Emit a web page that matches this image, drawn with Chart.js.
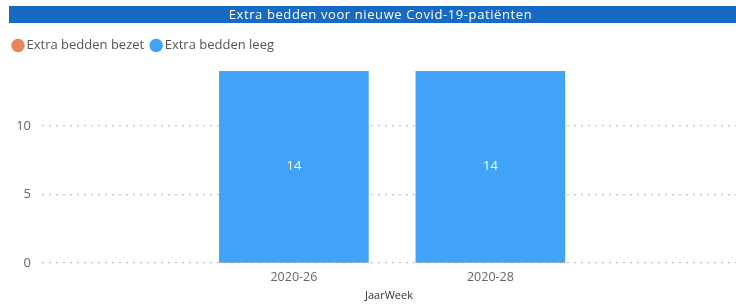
<!DOCTYPE html>
<html>
<head>
<meta charset="utf-8">
<script src="https://cdn.jsdelivr.net/npm/chart.js@4"></script>
<style>
  html, body { margin: 0; padding: 0; background: #fff; }
  #wrap { position: relative; width: 736px; height: 305px; }
  #title {
    position: absolute; left: 9px; top: 6px; width: 727px; height: 17px;
    background: #166ac4; color: #fff; font: 13px "Open Sans", sans-serif;
    letter-spacing: 0.6px; text-align: center; line-height: 17px; padding-left: 16px; box-sizing: border-box;
  }
  canvas { position: absolute; left: 0; top: 0; }
</style>
</head>
<body>
<div id="wrap">
  <canvas id="c" width="736" height="305"></canvas>
  <div id="title">Extra bedden voor nieuwe Covid-19-patiënten</div>
</div>
<script>
const chartTitle = 'Extra bedden voor nieuwe Covid-19-patiënten';
const categories = ['2020-26', '2020-28'];
const seriesNames = ['Extra bedden bezet', 'Extra bedden leeg'];
const bezetValues = [0, 0];
const leegValues = [14, 14];
const yTickValues = [0, 5, 10];
const xAxisTitle = 'JaarWeek';

document.getElementById('title').textContent = chartTitle;

const toPoints = vals => vals.map((v, i) => ({ x: i, y: v }));

const legendHeightPlugin = {
  id: 'legendHeight',
  beforeInit(chart) {
    const lg = chart.legend;
    const orig = lg.fit;
    lg.fit = function () { orig.call(this); this.height = 42; };
  }
};

const barLabels = {
  id: 'barLabels',
  afterDatasetsDraw(chart) {
    const ctx = chart.ctx;
    const meta = chart.getDatasetMeta(1);
    ctx.save();
    ctx.fillStyle = '#ffffff';
    ctx.font = '13px "Open Sans", sans-serif';
    ctx.textAlign = 'center';
    ctx.textBaseline = 'middle';
    meta.data.forEach((el, i) => {
      const v = chart.data.datasets[1].data[i].y;
      ctx.fillText(String(v), el.x, (el.y + el.base) / 2);
    });
    ctx.restore();
  }
};

new Chart(document.getElementById('c'), {
  type: 'bar',
  data: {
    datasets: [
      { label: seriesNames[0], data: toPoints(bezetValues), backgroundColor: '#e8875a', grouped: false, barThickness: 149 },
      { label: seriesNames[1], data: toPoints(leegValues), backgroundColor: '#41a3f8', grouped: false, barThickness: 149 }
    ]
  },
  options: {
    responsive: false,
    animation: false,
    layout: { padding: { top: 29, left: 6, right: 0, bottom: 0 } },
    plugins: {
      legend: {
        position: 'top',
        align: 'start',
        labels: {
          usePointStyle: true,
          pointStyle: 'circle',
          boxWidth: 4,
          boxHeight: 9.5,
          padding: 10,
          color: '#555',
          font: { family: '"Open Sans", sans-serif', size: 13 }
        }
      },
      tooltip: { enabled: false }
    },
    scales: {
      x: {
        type: 'linear',
        offset: false,
        min: -1.282,
        max: 2.25,
        grid: { display: false, drawTicks: false, offset: false },
        border: { display: false },
        afterBuildTicks(scale) { scale.ticks = categories.map((c, i) => ({ value: i })); },
        afterFit(scale) { scale.height = 42; },
        ticks: {
          padding: 7,
          color: '#666',
          font: { family: '"Open Sans", sans-serif', size: 12.5 },
          callback: v => categories[v] ?? ''
        },
        title: {
          display: true,
          text: xAxisTitle,
          color: '#333',
          font: { family: '"Open Sans", sans-serif', size: 11 },
          padding: { top: 0, bottom: 3 }
        }
      },
      y: {
        min: 0,
        max: 14,
        afterBuildTicks(scale) { scale.ticks = yTickValues.map(v => ({ value: v })); },
        afterFit(scale) { scale.width = 36; },
        grid: { color: '#c4c4c4', lineWidth: 1.2, drawTicks: false },
        border: { display: false, dash: [2, 5] },
        ticks: {
          padding: 11,
          color: '#666',
          font: { family: '"Open Sans", sans-serif', size: 13 }
        }
      }
    }
  },
  plugins: [legendHeightPlugin, barLabels]
});
</script>
</body>
</html>
